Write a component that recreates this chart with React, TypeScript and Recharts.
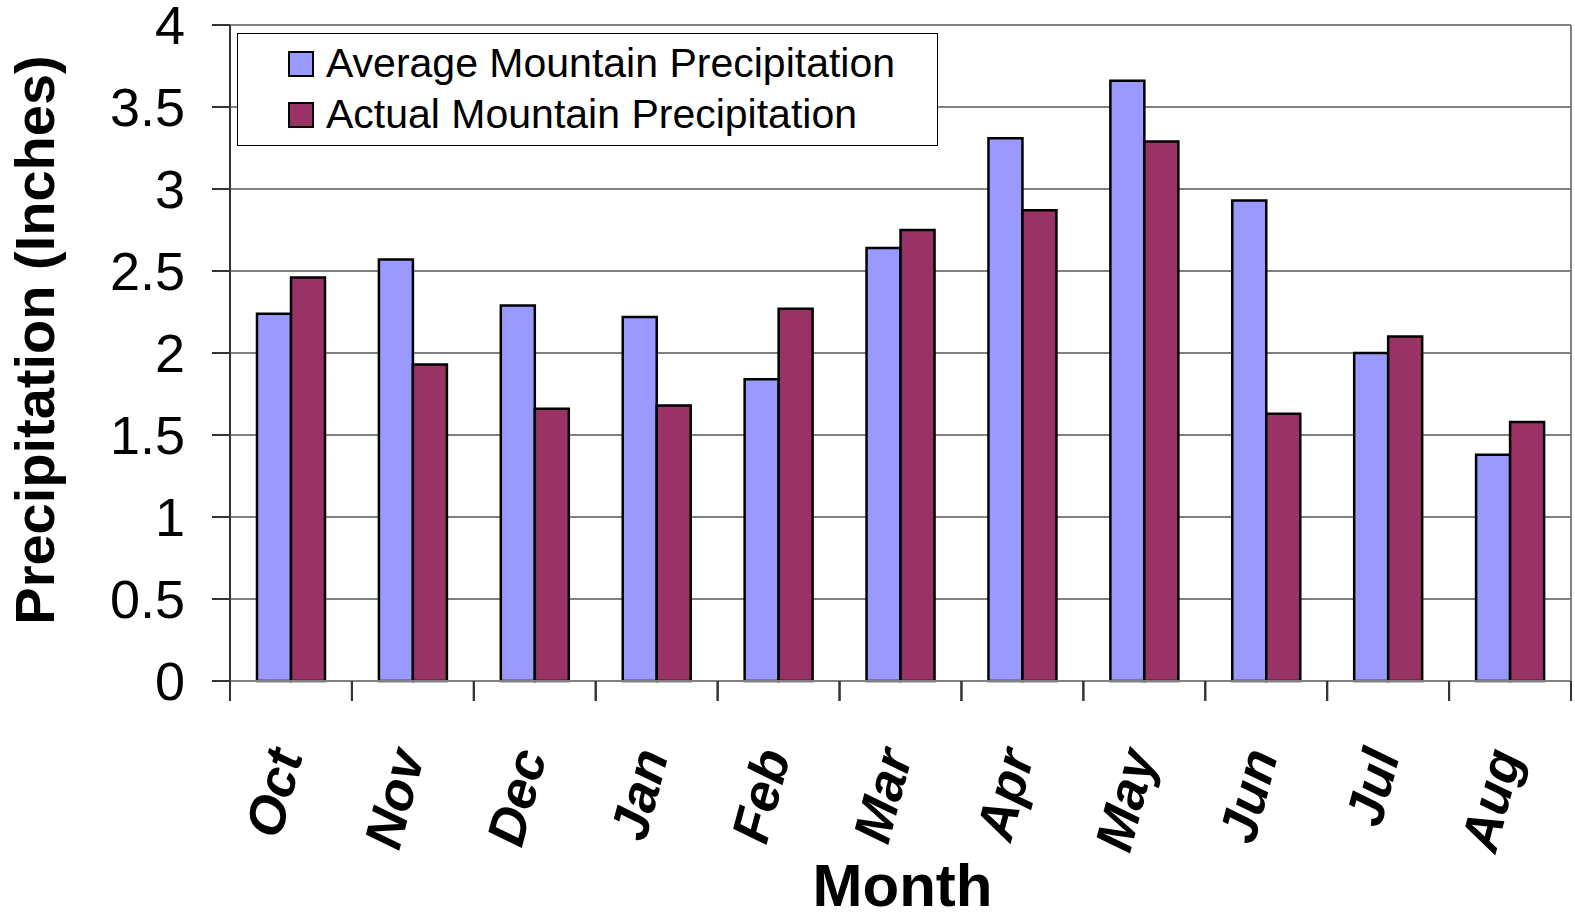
import React from "react"
import { Bar, BarChart, CartesianGrid, Label, Legend, XAxis, YAxis } from "recharts"

const months = ["Oct", "Nov", "Dec", "Jan", "Feb", "Mar", "Apr", "May", "Jun", "Jul", "Aug"]
const averagePrecip = [2.24, 2.57, 2.29, 2.22, 1.84, 2.64, 3.31, 3.66, 2.93, 2.0, 1.38]
const actualPrecip = [2.46, 1.93, 1.66, 1.68, 2.27, 2.75, 2.87, 3.29, 1.63, 2.1, 1.58]
const yTicks = [0, 0.5, 1, 1.5, 2, 2.5, 3, 3.5, 4]

const AVG_COLOR = "#9999FF"
const ACT_COLOR = "#993366"
const FONT = "'Liberation Sans', Arial, sans-serif"

const WIDTH = 1575
const HEIGHT = 920
const PLOT_LEFT = 230
const PLOT_RIGHT = 1571
const PLOT_TOP = 25
const PLOT_BOTTOM = 681
const HALF_BAND = (PLOT_RIGHT - PLOT_LEFT) / months.length / 2

const data = months.map((month, i) => ({
  month,
  average: averagePrecip[i],
  actual: actualPrecip[i],
}))

// month label plus Excel-style tick marks between categories
function MonthTick({ x, payload }: any) {
  return (
    <g>
      <line x1={x - HALF_BAND} x2={x - HALF_BAND} y1={PLOT_BOTTOM} y2={PLOT_BOTTOM + 20} stroke="#333" strokeWidth={2} />
      <line x1={x + HALF_BAND} x2={x + HALF_BAND} y1={PLOT_BOTTOM} y2={PLOT_BOTTOM + 20} stroke="#333" strokeWidth={2} />
      <text
        transform={`translate(${x + 12}, ${PLOT_BOTTOM + 74}) rotate(-75)`}
        textAnchor="end"
        fontSize={53}
        fontWeight="bold"
        fontStyle="italic"
        fontFamily={FONT}
        fill="#000"
      >
        {payload.value}
      </text>
    </g>
  )
}

function LegendBox() {
  const items = [
    { name: "Average Mountain Precipitation", color: AVG_COLOR },
    { name: "Actual Mountain Precipitation", color: ACT_COLOR },
  ]
  return (
    <div
      style={{
        width: 701,
        height: 113,
        border: "1.5px solid #000",
        boxSizing: "border-box",
        background: "#fff",
        paddingTop: 4,
      }}
    >
      {items.map((item) => (
        <div key={item.name} style={{ display: "flex", alignItems: "center", height: 51, paddingLeft: 50 }}>
          <span
            style={{
              width: 22,
              height: 22,
              background: item.color,
              border: "2px solid #000",
              marginRight: 12,
            }}
          />
          <span style={{ fontFamily: FONT, fontSize: 41, color: "#000", whiteSpace: "nowrap" }}>{item.name}</span>
        </div>
      ))}
    </div>
  )
}

export default function App() {
  return (
    <div style={{ position: "absolute", left: 0, top: 0, background: "#fff" }}>
      <BarChart
        width={WIDTH}
        height={HEIGHT}
        data={data}
        margin={{ top: PLOT_TOP, right: 0, bottom: 0, left: 0 }}
        barGap={0}
        barCategoryGap={27}
      >
        <CartesianGrid horizontal vertical={false} stroke="#808080" strokeWidth={2} />
        <XAxis
          dataKey="month"
          height={HEIGHT - PLOT_BOTTOM}
          axisLine={{ stroke: "#808080", strokeWidth: 2 }}
          tickLine={false}
          interval={0}
          tick={<MonthTick />}
        >
          <Label
            content={() => (
              <text
                x={(PLOT_LEFT + PLOT_RIGHT) / 2 + 2}
                y={906}
                textAnchor="middle"
                fontSize={60}
                fontWeight="bold"
                fontFamily={FONT}
                fill="#000"
              >
                Month
              </text>
            )}
          />
        </XAxis>
        <YAxis
          width={PLOT_LEFT}
          domain={[0, 4]}
          ticks={yTicks}
          interval={0}
          axisLine={{ stroke: "#333", strokeWidth: 2 }}
          tickLine={{ stroke: "#333", strokeWidth: 2 }}
          tickSize={18}
          tickMargin={27}
          tick={{ fill: "#000", fontSize: 54, fontFamily: FONT }}
        >
          <Label
            content={() => (
              <text
                transform={`translate(54, 340) rotate(-90)`}
                textAnchor="middle"
                fontSize={56}
                fontWeight="bold"
                fontFamily={FONT}
                fill="#000"
              >
                Precipitation (Inches)
              </text>
            )}
          />
        </YAxis>
        <YAxis
          yAxisId="right"
          orientation="right"
          width={WIDTH - PLOT_RIGHT}
          domain={[0, 4]}
          tick={false}
          tickLine={false}
          axisLine={{ stroke: "#808080", strokeWidth: 2 }}
        />
        <Legend
          layout="vertical"
          align="center"
          verticalAlign="middle"
          wrapperStyle={{ left: 237, top: 33, width: 701 }}
          content={() => <LegendBox />}
        />
        <Bar dataKey="average" fill={AVG_COLOR} stroke="#000" strokeWidth={2.5} isAnimationActive={false} />
        <Bar dataKey="actual" fill={ACT_COLOR} stroke="#000" strokeWidth={2.5} isAnimationActive={false} />
      </BarChart>
    </div>
  )
}
